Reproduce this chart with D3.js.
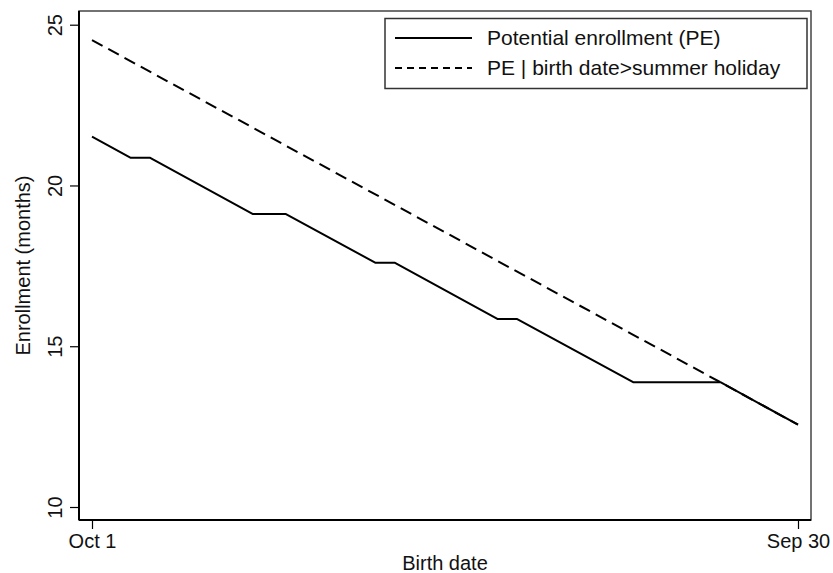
<!DOCTYPE html>
<html>
<head>
<meta charset="utf-8">
<script src="https://cdn.jsdelivr.net/npm/d3@7"></script>
<style>
  body { margin: 0; background: #fff; }
  svg { display: block; font-family: "Liberation Sans", Arial, sans-serif; }
</style>
</head>
<body>
<svg id="chart" width="833" height="573"></svg>
<script>
// birth day counted from Oct 1 (0) to Sep 30 (364)
const xTickDays = [0, 364];
const xTickLabels = ["Oct 1", "Sep 30"];
const yTicks = [10, 15, 20, 25];

const peDays = [0, 20, 30, 83, 100, 146, 156, 209, 219, 279, 324, 364];
const peValues = [21.52, 20.86, 20.86, 19.11, 19.11, 17.6, 17.6, 15.85, 15.85, 13.88, 13.88, 12.56];

const peHolDays = [0, 324, 364];
const peHolValues = [24.52, 13.88, 12.56];

const seriesNames = ["Potential enrollment (PE)", "PE | birth date>summer holiday"];

const frame = { left: 79, right: 811, top: 11, bottom: 520 };

const svg = d3.select("#chart");

const x = d3.scaleLinear().domain([0, 364]).range([92, 798]);
const y = d3.scaleLinear().domain([10, 25]).range([507, 24.7]);

// plot region outline
svg.append("rect")
  .attr("x", frame.left).attr("y", frame.top)
  .attr("width", frame.right - frame.left)
  .attr("height", frame.bottom - frame.top)
  .attr("fill", "none")
  .attr("stroke", "#444")
  .attr("stroke-width", 1.5);

// y axis
const yAxis = svg.append("g")
  .attr("transform", `translate(${frame.left},0)`)
  .call(d3.axisLeft(y).tickValues(yTicks).tickSize(9).tickFormat(d3.format("d")));
yAxis.select(".domain").remove();
yAxis.selectAll(".tick line").attr("stroke", "#000").attr("stroke-width", 1.2);
yAxis.selectAll(".tick text")
  .attr("x", null).attr("dy", null)
  .attr("transform", "translate(-17,0) rotate(-90)")
  .attr("text-anchor", "middle")
  .attr("font-size", 20)
  .attr("fill", "#111");

// x axis
const xAxis = svg.append("g")
  .attr("transform", `translate(0,${frame.bottom})`)
  .call(d3.axisBottom(x).tickValues(xTickDays).tickSize(9)
    .tickFormat((d, i) => xTickLabels[i]));
xAxis.select(".domain").remove();
xAxis.selectAll(".tick line").attr("stroke", "#000").attr("stroke-width", 1.2);
xAxis.selectAll(".tick text")
  .attr("y", 28).attr("dy", null)
  .attr("font-size", 20)
  .attr("fill", "#111");

// axis lines on left and bottom
svg.append("line")
  .attr("x1", frame.left).attr("x2", frame.left)
  .attr("y1", frame.top).attr("y2", frame.bottom)
  .attr("stroke", "#000").attr("stroke-width", 2);
svg.append("line")
  .attr("x1", frame.left).attr("x2", frame.right)
  .attr("y1", frame.bottom).attr("y2", frame.bottom)
  .attr("stroke", "#000").attr("stroke-width", 2);

// axis titles
svg.append("text")
  .attr("x", (frame.left + frame.right) / 2).attr("y", 570)
  .attr("text-anchor", "middle").attr("font-size", 20).attr("fill", "#111")
  .text("Birth date");
svg.append("text")
  .attr("transform", `translate(30,${(frame.top + frame.bottom) / 2}) rotate(-90)`)
  .attr("text-anchor", "middle").attr("font-size", 20).attr("fill", "#111")
  .text("Enrollment (months)");

// lines
const line = d3.line().x(d => x(d[0])).y(d => y(d[1]));

svg.append("path")
  .datum(d3.zip(peHolDays, peHolValues))
  .attr("d", line)
  .attr("fill", "none")
  .attr("stroke", "#000")
  .attr("stroke-width", 2)
  .attr("stroke-dasharray", "12,6.5");

svg.append("path")
  .datum(d3.zip(peDays, peValues))
  .attr("d", line)
  .attr("fill", "none")
  .attr("stroke", "#000")
  .attr("stroke-width", 2)
  .attr("stroke-linejoin", "round");

// legend
const legend = svg.append("g");
legend.append("rect")
  .attr("x", 385).attr("y", 18.5)
  .attr("width", 422).attr("height", 70)
  .attr("fill", "#fff")
  .attr("stroke", "#333")
  .attr("stroke-width", 1.5);

const legendRows = legend.selectAll("g.row")
  .data(seriesNames)
  .join("g")
  .attr("class", "row")
  .attr("transform", (d, i) => `translate(0,${38 + i * 30})`);

legendRows.append("line")
  .attr("x1", 395).attr("x2", 472)
  .attr("stroke", "#000")
  .attr("stroke-width", 2)
  .attr("stroke-dasharray", (d, i) => i === 0 ? null : "7,5");

legendRows.append("text")
  .attr("x", 487).attr("y", 7)
  .attr("font-size", 21).attr("fill", "#111")
  .text(d => d);
</script>
</body>
</html>
